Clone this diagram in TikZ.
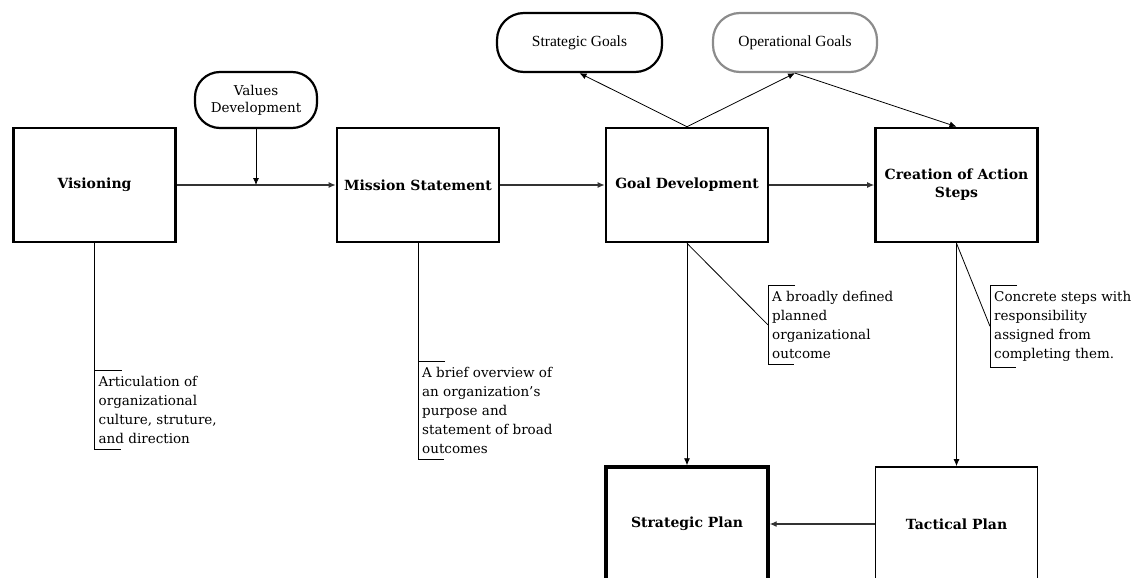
\documentclass[tikz,border=0pt]{standalone}
\usepackage{fontspec}
\setmainfont{DejaVu Serif}
\newfontfamily\goalfont{Liberation Serif}
\usetikzlibrary{arrows.meta}

\tikzset{
  stepbox/.style={draw, line width=2.6pt, minimum width=162pt, minimum height=114pt,
    align=center, font=\bfseries\fontsize{14}{18}\selectfont},
  termbox/.style={draw, line width=2.2pt, rounded corners=27pt, align=center},
  note/.style={anchor=north west, align=left, inner xsep=4pt, inner ysep=6pt,
    font=\fontsize{13.5}{19}\selectfont},
  link/.style={line width=0.8pt},
  flow/.style={->, line width=1.2pt, black!80},
}

\begin{document}
\begin{tikzpicture}[x=1pt, y=-1pt, >={Latex[length=7pt, width=6pt]}]
    \useasboundingbox (0,0) rectangle (1144,578);

    % Main steps
    \node[stepbox] (vis) at (94.5,185) {Visioning};
    \node[stepbox] (mis) at (418,185) {Mission Statement};
    \node[stepbox] (goal) at (687,185) {Goal Development};
    \node[stepbox] (act) at (956.5,185) {Creation of Action\\Steps};
    \node[stepbox, line width=3.4pt] (splan) at (687,524) {Strategic Plan};
    \node[stepbox, line width=1.8pt] (tplan) at (956.5,524) {Tactical Plan};

    % Rounded inputs and outputs
    \node[termbox, minimum width=122pt, minimum height=56pt, rounded corners=25pt,
      font=\fontsize{13.5}{17}\selectfont] (values) at (256,100) {Values\\Development};
    \node[termbox, minimum width=165pt, minimum height=59pt,
      font=\goalfont\fontsize{15.5}{18}\selectfont] (sgoals) at (579.5,42.5) {Strategic Goals};
    \node[termbox, draw=black!45, minimum width=164pt, minimum height=59pt,
      font=\goalfont\fontsize{15.5}{18}\selectfont] (ogoals) at (795,42.5) {Operational Goals};

    % Flow between the steps
    \coordinate (merge) at (256,185);
    \draw[flow] (vis) -- (mis);
    \draw[->, link] (values) -- (merge);
    \draw[flow] (mis) -- (goal);
    \draw[flow] (goal) -- (act);
    \draw[->, link] (goal.north) -- (sgoals.south);
    \draw[->, link] (goal.north) -- (ogoals.south);
    \draw[->, link] (ogoals.south) -- (act.north);
    \draw[->, link] (goal) -- (splan);
    \draw[->, link] (act) -- (tplan);
    \draw[flow] (tplan) -- (splan);

    % Notes
    \node[note] (visnote) at (94.5,370) {Articulation of\\organizational\\culture, struture,\\and direction};
    \node[note] (misnote) at (418,361) {A brief overview of\\an organization's\\purpose and\\statement of broad\\outcomes};
    \node[note] (goalnote) at (768,285) {A broadly defined\\planned\\organizational\\outcome};
    \node[note] (actnote) at (990,285) {Concrete steps with\\responsibility\\assigned from\\completing them.};

    % Note brackets
    \foreach \n in {visnote, misnote, goalnote, actnote}
      \draw[link] ([xshift=27pt]\n.north west) -- (\n.north west) -- (\n.south west) -- ([xshift=26pt]\n.south west);
    \draw[link] (vis.south) -- (visnote.north west);
    \draw[link] (mis.south) -- (misnote.north west);
    \draw[link] (goal.south) -- (goalnote.west);
    \draw[link] (act.south) -- (actnote.west);
\end{tikzpicture}
\end{document}
